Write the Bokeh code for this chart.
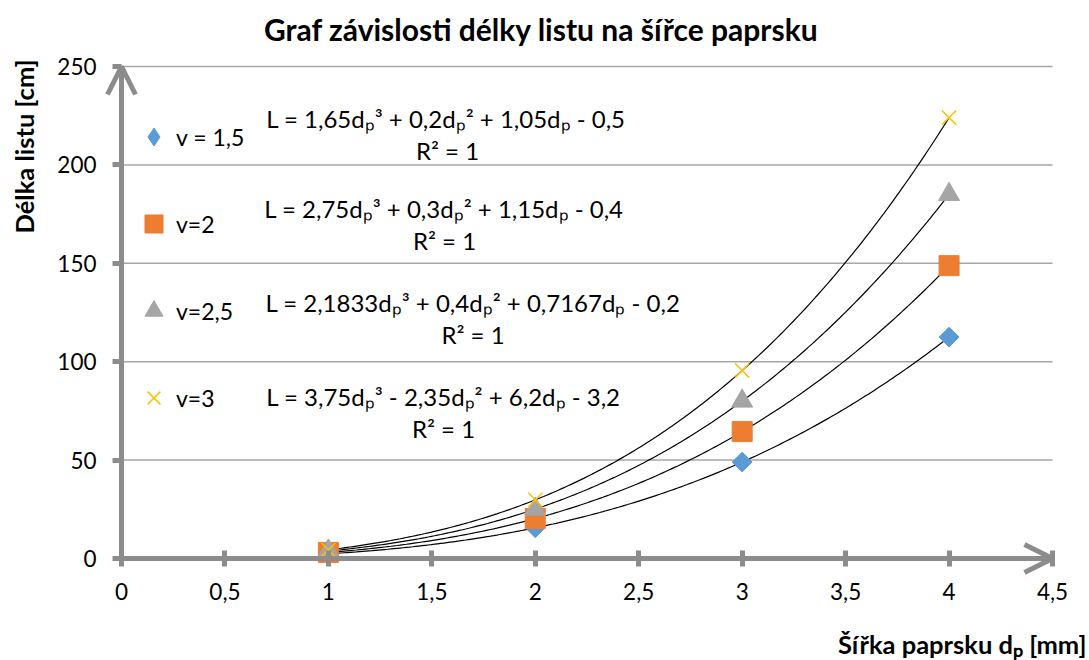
import numpy as np
from bokeh.plotting import figure
from bokeh.models import (Label, Legend, LegendItem, Arrow, OpenHead, FixedTicker, Range1d)
from bokeh.core.properties import value
from bokeh.embed import file_html
from bokeh.resources import INLINE

# ---------------- data ----------------
title_text = "Graf závislosti délky listu na šířce paprsku"
x_label = "Šířka paprsku dₚ [mm]"
y_label = "Délka listu [cm]"

d_p = [1, 2, 3, 4]
L_v15 = [2.4, 15.6, 49.0, 112.5]
L_v2 = [3.1, 20.3, 64.5, 148.8]
L_v25 = [3.8, 25.1, 80.0, 185.0]
L_v3 = [4.4, 29.8, 95.5, 224.0]
series_names = ["v = 1,5", "v=2", "v=2,5", "v=3"]

equations = [
    "L = 1,65dₚ³ + 0,2dₚ² + 1,05dₚ - 0,5",
    "L = 2,75dₚ³ + 0,3dₚ² + 1,15dₚ - 0,4",
    "L = 2,1833dₚ³ + 0,4dₚ² + 0,7167dₚ - 0,2",
    "L = 3,75dₚ³ - 2,35dₚ² + 6,2dₚ - 3,2",
]
r_squared = ["R² = 1", "R² = 1", "R² = 1", "R² = 1"]

x_ticks = [0, 0.5, 1, 1.5, 2, 2.5, 3, 3.5, 4, 4.5]
x_tick_labels = ["0", "0,5", "1", "1,5", "2", "2,5", "3", "3,5", "4", "4,5"]
y_ticks = [0, 50, 100, 150, 200, 250]
y_tick_labels = ["0", "50", "100", "150", "200", "250"]

# ---------------- styling ----------------
FONT = "Lato"
AXIS_GRAY = "#8C8C8C"
GRID_GRAY = "#A6A6A6"

p = figure(width=1089, height=660, output_backend="svg", toolbar_location=None,
           x_axis_location="above",
           x_range=Range1d(-0.5365, 4.6788), y_range=Range1d(-51.83, 278.455),
           min_border_left=10, min_border_right=0, min_border_top=10, min_border_bottom=0)
p.outline_line_color = None
p.background_fill_color = "white"
p.border_fill_color = "white"

# horizontal grid lines spanning the axis extent only
p.xgrid.visible = False
p.ygrid.visible = False
p.segment(x0=[x_ticks[0]] * (len(y_ticks) - 1), x1=[x_ticks[-1]] * (len(y_ticks) - 1),
          y0=y_ticks[1:], y1=y_ticks[1:], line_color=GRID_GRAY, line_width=1.5)

# axes placed at zero (lines and tick marks); tick labels drawn as text
for ax in (p.xaxis[0], p.yaxis[0]):
    ax.axis_line_color = AXIS_GRAY
    ax.axis_line_width = 5
    ax.major_tick_line_color = AXIS_GRAY
    ax.major_tick_line_width = 5
    ax.minor_tick_line_color = None
    ax.major_label_text_font_size = "1px"
    ax.major_label_text_color = None
    ax.major_label_standoff = 0

p.xaxis.fixed_location = 0
p.xaxis.bounds = (-0.04, 4.5)
p.xaxis.ticker = FixedTicker(ticks=x_ticks)
p.xaxis.major_tick_in = 8
p.xaxis.major_tick_out = 8

p.yaxis.fixed_location = 0
p.yaxis.bounds = (0, 250)
p.yaxis.ticker = FixedTicker(ticks=y_ticks)
p.yaxis.major_tick_in = 0
p.yaxis.major_tick_out = 9

p.text(x=x_ticks, y=[y_ticks[0]] * len(x_ticks), text=x_tick_labels, y_offset=33,
       text_align="center", text_baseline="middle", text_font=value(FONT),
       text_font_size="22.5px", text_color="black")
p.text(x=[x_ticks[0]] * len(y_ticks), y=y_ticks, text=y_tick_labels, x_offset=-25,
       text_align="right", text_baseline="middle", text_font=value(FONT),
       text_font_size="22.5px", text_color="black")

# arrow heads on the axes
p.add_layout(Arrow(end=OpenHead(size=28, line_color=AXIS_GRAY, line_width=5),
                   x_start=x_ticks[0], y_start=y_ticks[0], x_end=x_ticks[-1], y_end=y_ticks[0],
                   line_alpha=0))
p.add_layout(Arrow(end=OpenHead(size=28, line_color=AXIS_GRAY, line_width=5),
                   x_start=x_ticks[0], y_start=y_ticks[0], x_end=x_ticks[0], y_end=y_ticks[-1],
                   line_alpha=0))

# trendlines (cubic fits of each series)
xs = np.linspace(d_p[0], d_p[-1], 200)
for ys in (L_v15, L_v2, L_v25, L_v3):
    c = np.polyfit(d_p, ys, 3)
    p.line(xs, np.polyval(c, xs), line_color="black", line_width=1.2)

# markers
r1 = p.scatter(d_p, L_v15, marker="square", size=14, angle=np.pi / 4,
               fill_color="#5B9BD5", line_color="#5B9BD5")
r2 = p.scatter(d_p, L_v2, marker="square", size=20,
               fill_color="#ED7D31", line_color="#ED7D31")
r3 = p.scatter(d_p, L_v25, marker="triangle", size=21,
               fill_color="#A5A5A5", line_color="#A5A5A5")
r4 = p.scatter(d_p, L_v3, marker="x", size=20, line_color="#FFC000", line_width=1.5)
# legend proxy for the diamond marker (legend glyphs ignore rotation); not drawn in the plot
r1_legend = p.scatter(x=[float("nan")], y=[float("nan")], marker="diamond",
                      fill_color="#5B9BD5", line_color="#5B9BD5")

legend = Legend(items=[LegendItem(label=n, renderers=[r])
                       for n, r in zip(series_names, [r1_legend, r2, r3, r4])],
                location=(121, 240), orientation="vertical", padding=0, margin=0,
                glyph_height=45, glyph_width=45, label_height=45, spacing=42,
                label_standoff=0, border_line_alpha=0, background_fill_alpha=0,
                label_text_font=FONT, label_text_font_size="23px", label_text_color="black")
p.add_layout(legend)

# equation labels (trendline captions), frame-relative screen positions
eq_pos = [(435.5, 542), (433.5, 452), (462.5, 358), (433, 264)]
r2_pos = [(437, 510), (434, 420), (462.5, 326), (433, 232)]
for txt, (sx, sy) in zip(equations, eq_pos):
    p.add_layout(Label(x=sx, y=sy, x_units="screen", y_units="screen", text=txt,
                       text_align="center", text_baseline="middle",
                       text_font=FONT, text_font_size="24px", text_color="black"))
for txt, (sx, sy) in zip(r_squared, r2_pos):
    p.add_layout(Label(x=sx, y=sy, x_units="screen", y_units="screen", text=txt,
                       text_align="center", text_baseline="middle",
                       text_font=FONT, text_font_size="24px", text_color="black"))

# titles
p.add_layout(Label(x=531, y=632, x_units="screen", y_units="screen", text=title_text,
                   text_align="center", text_baseline="middle", text_font=FONT,
                   text_font_size="30px", text_font_style="bold", text_color="black"))
p.add_layout(Label(x=13, y=514, x_units="screen", y_units="screen", text=y_label,
                   angle=np.pi / 2, text_align="center", text_baseline="middle", text_font=FONT,
                   text_font_size="25.5px", text_font_style="bold", text_color="black"))
p.add_layout(Label(x=1076, y=17, x_units="screen", y_units="screen", text=x_label,
                   text_align="right", text_baseline="middle", text_font=FONT,
                   text_font_size="25.5px", text_font_style="bold", text_color="black"))

open("out.html", "w").write(file_html(p, INLINE))
